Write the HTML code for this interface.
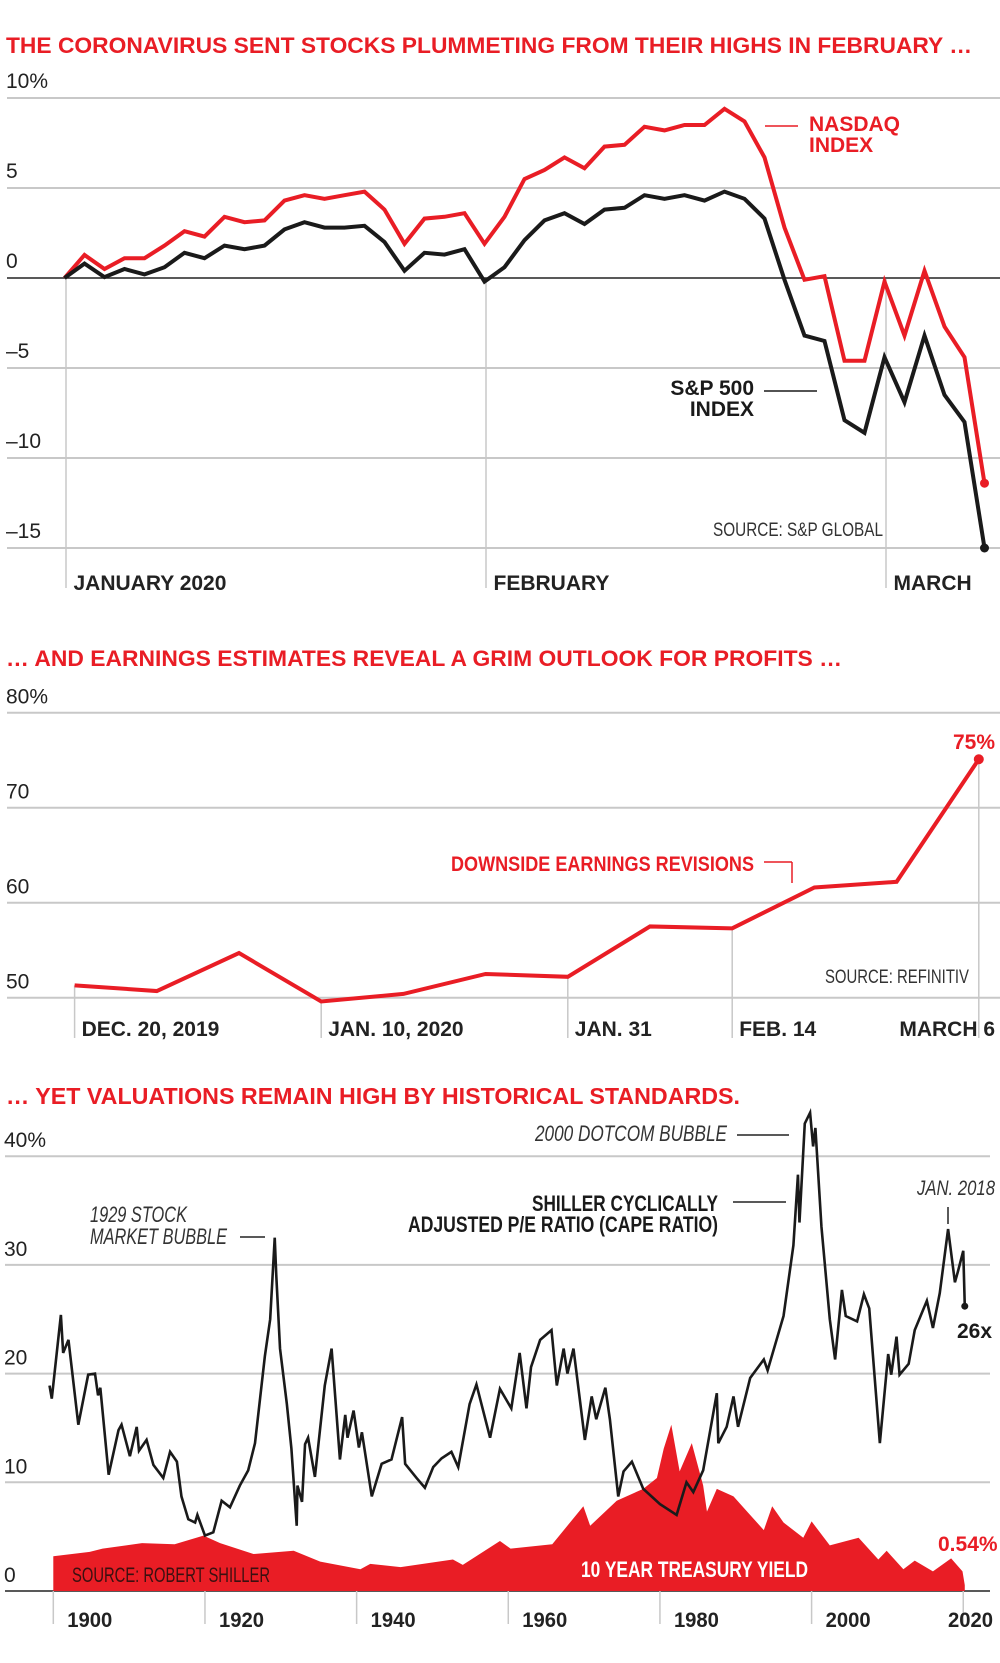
<!DOCTYPE html>
<html><head><meta charset="utf-8"><style>
html,body{margin:0;padding:0;background:#fff;}
svg{display:block;}
text{font-family:"Liberation Sans Narrow","Liberation Sans",sans-serif;}
.t{font-family:"Liberation Sans",sans-serif;font-weight:bold;fill:#e91d25;}
.ax{font-size:21px;fill:#222;}
.xl{font-size:21px;font-weight:bold;fill:#222;}
</style></head><body>
<svg id="root" width="1000" height="1663" viewBox="0 0 1000 1663" xmlns="http://www.w3.org/2000/svg">
<text class="t" x="6" y="53" font-size="22" textLength="966" lengthAdjust="spacingAndGlyphs">THE CORONAVIRUS SENT STOCKS PLUMMETING FROM THEIR HIGHS IN FEBRUARY …</text>
<g id="c1"></g>
<text class="t" x="6" y="666" font-size="22" textLength="836" lengthAdjust="spacingAndGlyphs">… AND EARNINGS ESTIMATES REVEAL A GRIM OUTLOOK FOR PROFITS …</text>
<g id="c2"></g>
<text class="t" x="6" y="1104" font-size="23" textLength="734" lengthAdjust="spacingAndGlyphs">… YET VALUATIONS REMAIN HIGH BY HISTORICAL STANDARDS.</text>
<g id="c3"></g>
</svg>
<script>
// ---------- Chart 1 data ----------
const c1Ticks = [10, 5, 0, -5, -10, -15];
const c1TickLabels = ["10%", "5", "0", "\u20135", "\u201310", "\u201315"];
const nasdaq = [0,1.28,0.5,1.1,1.1,1.8,2.6,2.3,3.4,3.1,3.2,4.3,4.6,4.4,4.6,4.8,3.8,1.9,3.3,3.4,3.6,1.9,3.4,5.5,6.0,6.7,6.1,7.3,7.4,8.4,8.2,8.5,8.5,9.4,8.7,6.7,2.8,-0.1,0.1,-4.6,-4.6,-0.2,-3.2,0.4,-2.7,-4.4,-11.4];
const sp500 = [0,0.8,0.05,0.5,0.2,0.6,1.4,1.1,1.8,1.6,1.8,2.7,3.1,2.8,2.8,2.9,2.0,0.4,1.4,1.3,1.6,-0.2,0.6,2.1,3.2,3.6,3.0,3.8,3.9,4.6,4.4,4.6,4.3,4.8,4.4,3.3,-0.1,-3.2,-3.5,-7.9,-8.6,-4.4,-6.9,-3.2,-6.5,-8.0,-15];
const c1MonthIdx = [0, 21, 41];
const c1MonthLabels = ["JANUARY 2020", "FEBRUARY", "MARCH"];
// ---------- Chart 2 data ----------
const c2Ticks = [80, 70, 60, 50];
const c2TickLabels = ["80%", "70", "60", "50"];
const revisions = [51.3,50.7,54.7,49.6,50.4,52.5,52.2,57.5,57.3,61.6,62.2,75.1];
const c2DateIdx = [0, 3, 6, 8, 11];
const c2DateLabels = ["DEC. 20, 2019", "JAN. 10, 2020", "JAN. 31", "FEB. 14", "MARCH 6"];
// ---------- Chart 3 data ----------
const c3Ticks = [40, 30, 20, 10, 0];
const c3TickLabels = ["40%", "30", "20", "10", "0"];
const c3Years = [1900, 1920, 1940, 1960, 1980, 2000, 2020];
const capeYears = [1899.5,1899.8,1901,1901.3,1902,1903.3,1904.6,1905.5,1905.9,1906.2,1907.3,1908.6,1909,1910.1,1911,1911.3,1912.3,1913.2,1914.5,1915.4,1916.3,1916.9,1917.8,1918.7,1919,1920,1921.1,1922.2,1923.3,1924.6,1925.7,1926.6,1927.9,1928.6,1929.2,1929.4,1929.9,1930.8,1931.4,1932.1,1932.2,1932.8,1933.2,1933.6,1934.5,1935.8,1936.7,1937.8,1938.5,1938.8,1939.6,1940.3,1940.7,1942,1943.3,1944.6,1946,1946.4,1947.9,1949,1950.1,1951.2,1952.5,1953.4,1954.9,1955.8,1957.6,1958.9,1960.4,1961.5,1962.4,1963,1964.2,1965.7,1966.4,1967.3,1967.8,1968.6,1970.1,1971,1971.6,1972.8,1973.4,1974.5,1975.2,1976.3,1977.8,1980,1982.2,1983.5,1984.4,1985.7,1987.5,1987.7,1988.8,1989.7,1990.3,1991.9,1993.7,1994.2,1996.3,1997.6,1998.2,1998.4,1999.1,1999.8,2000.2,2000.5,2001.3,2002.4,2003.1,2004,2004.5,2006,2006.9,2007.6,2009,2010.1,2010.5,2011.2,2011.6,2012.8,2013.6,2015.2,2016,2016.9,2018,2018.9,2019.3,2020,2020.2];
const capeValues = [18.9,17.7,25.4,21.9,23.1,15.3,19.9,20.0,18.0,18.7,10.7,14.8,15.3,12.4,15.1,12.9,13.9,11.6,10.4,12.8,11.9,8.7,6.6,6.3,7.0,5.1,5.4,8.3,7.7,9.7,11.1,13.6,21.6,25.0,32.5,29.1,22.3,17.2,13.1,6.0,9.7,8.2,13.5,14.1,10.5,18.9,22.3,12.1,16.2,14.1,16.6,13.2,14.6,8.7,11.7,12.1,16.0,11.7,10.4,9.5,11.4,12.2,12.8,11.4,17.2,19.0,14.1,18.6,16.8,21.9,16.8,20.6,23.1,24.0,18.9,22.3,20.0,22.3,13.9,17.9,15.8,18.7,15.8,8.7,11.0,11.9,9.4,8.0,7.0,10.0,9.1,11.1,18.2,13.6,15.1,17.9,15.1,19.6,21.3,20.3,25.3,31.8,38.3,33.9,43.0,44.0,40.9,42.6,33.5,25.0,21.3,27.7,25.3,24.8,27.3,26.0,13.6,21.8,19.9,23.4,19.9,20.9,24.0,26.7,24.2,27.4,33.3,28.4,29.4,31.3,26.2];
const yieldYears = [1900,1904.8,1906.5,1911.7,1916,1919.8,1922,1926.4,1931.7,1935.2,1940.5,1941.8,1945.8,1952.7,1954,1956.9,1958.9,1960.3,1965.8,1969.9,1970.8,1974.3,1977.8,1979.6,1980.5,1981.5,1982.6,1984.2,1985.7,1986.2,1987.5,1989.7,1991.5,1993.7,1994.8,1996.3,1998.9,2000,2002.4,2006.2,2008.8,2009.9,2012.1,2013.6,2016,2018.4,2019.9,2020.2];
const yieldValues = [3.2,3.6,3.9,4.4,4.3,5.1,4.4,3.4,3.7,2.7,2.0,2.5,2.2,2.9,2.4,3.7,4.6,3.9,4.3,7.8,6.0,8.3,9.4,10.4,13.1,15.3,11.0,13.6,9.7,7.3,9.4,8.7,7.3,5.6,7.8,6.3,4.9,6.4,4.2,4.9,2.9,3.7,2.0,2.8,1.8,3.0,1.8,0.54];

const NS = "http://www.w3.org/2000/svg";
function mk(parent, tag, attrs, txt) {
  const e = document.createElementNS(NS, tag);
  for (const k in attrs) e.setAttribute(k, attrs[k]);
  if (txt !== undefined) e.textContent = txt;
  parent.appendChild(e);
  return e;
}
const c1 = document.getElementById('c1');
const c2 = document.getElementById('c2');
const c3 = document.getElementById('c3');

// ===== Chart 1 =====
const x1 = i => 64.5 + i * 20;
const y1 = v => 278 - v * 18;
c1Ticks.forEach((t, k) => {
  const g = mk(c1, 'line', {x1: 7, x2: 1000, y1: y1(t), y2: y1(t), stroke: t === 0 ? '#222' : '#c8c8c8', 'stroke-width': t === 0 ? 1.5 : 2});
  
  
  const l = mk(c1, 'text', {x: 6, y: y1(t) - 10, class: 'ax'}, c1TickLabels[k]);
  
  
});
c1MonthIdx.forEach((i, k) => {
  const v = mk(c1, 'line', {x1: x1(i) + 1.5, x2: x1(i) + 1.5, y1: 279, y2: 588, stroke: '#c8c8c8', 'stroke-width': 1.5});
  
  
  const l = mk(c1, 'text', {x: x1(i) + 9, y: 590, class: 'xl'}, c1MonthLabels[k]);
  
  
});
function series(parent, xs, ys, color, w, name) {
  const p = mk(parent, 'polyline', {points: xs.map((x, i) => x + ',' + ys[i]).join(' '), fill: 'none', stroke: color, 'stroke-width': w, 'stroke-linejoin': 'miter'});
  
  
  return p;
}
series(c1, nasdaq.map((v, i) => x1(i)), nasdaq.map(y1), '#e91d25', 4, 'nasdaq-line');
series(c1, sp500.map((v, i) => x1(i)), sp500.map(y1), '#1a1a1a', 4, 'sp500-line');
let d = mk(c1, 'circle', {cx: x1(nasdaq.length - 1), cy: y1(nasdaq[nasdaq.length - 1]), r: 4.5, fill: '#e91d25'});


d = mk(c1, 'circle', {cx: x1(sp500.length - 1), cy: y1(sp500[sp500.length - 1]), r: 4.5, fill: '#1a1a1a'});



// ===== Chart 2 =====
const x2 = i => 74.6 + i * 82.2;
const y2 = v => 997.7 - (v - 50) * 9.5;
c2Ticks.forEach((t, k) => {
  const g = mk(c2, 'line', {x1: 7, x2: 1000, y1: y2(t), y2: y2(t), stroke: '#c8c8c8', 'stroke-width': 2});
  
  
  const l = mk(c2, 'text', {x: 6, y: y2(t) - 9, class: 'ax'}, c2TickLabels[k]);
  
  
});
c2DateIdx.forEach((i, k) => {
  const v = mk(c2, 'line', {x1: x2(i), x2: x2(i), y1: y2(revisions[i]), y2: 1038, stroke: '#c8c8c8', 'stroke-width': 1.5});
  
  
  const last = k === c2DateIdx.length - 1;
  const l = mk(c2, 'text', {x: last ? 995 : x2(i) + 7, y: 1036, class: 'xl', 'text-anchor': last ? 'end' : 'start'}, c2DateLabels[k]);
  
  
});
series(c2, revisions.map((v, i) => x2(i)), revisions.map(y2), '#e91d25', 4, 'revisions-line');
d = mk(c2, 'circle', {cx: x2(revisions.length - 1), cy: y2(revisions[revisions.length - 1]), r: 5, fill: '#e91d25'});



// ===== Chart 3 =====
const x3 = yr => 53.3 + (yr - 1900) * 7.583;
const y3 = v => 1591 - v * 10.87;
c3Ticks.forEach((t, k) => {
  const g = mk(c3, 'line', {x1: 5, x2: 990, y1: y3(t), y2: y3(t), stroke: t === 0 ? '#222' : '#c8c8c8', 'stroke-width': t === 0 ? 1.5 : 2});
  
  
  const l = mk(c3, 'text', {x: 4, y: y3(t) - 9, class: 'ax', 'font-family': 'Liberation Sans, sans-serif', 'font-size': 20}, c3TickLabels[k]);
  
  
});
const ypts = yieldYears.map((yr, i) => x3(yr) + ',' + y3(yieldValues[i]));
const area = mk(c3, 'polygon', {points: x3(yieldYears[0]) + ',' + y3(0) + ' ' + ypts.join(' ') + ' ' + x3(yieldYears[yieldYears.length - 1]) + ',' + y3(0), fill: '#e91d25'});


c3Years.forEach((yr, k) => {
  const v = mk(c3, 'line', {x1: x3(yr), x2: x3(yr), y1: y3(0), y2: 1624, stroke: '#c8c8c8', 'stroke-width': 1.5});
  
  
  const last = k === c3Years.length - 1;
  const l = mk(c3, 'text', {x: last ? 993 : x3(yr) + 14, y: 1627, class: 'xl', 'text-anchor': last ? 'end' : 'start', 'font-family': 'Liberation Sans, sans-serif', 'font-size': 20, textLength: 45, lengthAdjust: 'spacingAndGlyphs'}, String(yr));
  
  
});
series(c3, capeYears.map(x3), capeValues.map(y3), '#1a1a1a', 2.6, 'cape-line');
d = mk(c3, 'circle', {cx: x3(capeYears[capeYears.length - 1]), cy: y3(capeValues[capeValues.length - 1]), r: 3.5, fill: '#1a1a1a'});


</script>
<script>
(function(){
const NS="http://www.w3.org/2000/svg";
const root=document.getElementById('root');
function t(x,y,txt,attrs,name){const e=document.createElementNS(NS,'text');e.setAttribute('x',x);e.setAttribute('y',y);for(const k in attrs)e.setAttribute(k,attrs[k]);e.textContent=txt;


root.appendChild(e);}
function l(x1,y1,x2,y2,c,name){const e=document.createElementNS(NS,'line');e.setAttribute('x1',x1);e.setAttribute('y1',y1);e.setAttribute('x2',x2);e.setAttribute('y2',y2);e.setAttribute('stroke',c);e.setAttribute('stroke-width',1.5);


root.appendChild(e);}
const R='#e91d25';
t(809,131,'NASDAQ',{'font-size':21,'font-weight':'bold',fill:R},'nasdaq-label');
t(809,152,'INDEX',{'font-size':21,'font-weight':'bold',fill:R},'nasdaq-label-2');
l(765,126,798,126,R,'nasdaq-leader');
t(754,395,'S&P 500',{'font-size':21,'font-weight':'bold',fill:'#1a1a1a','text-anchor':'end'},'sp500-label');
t(754,416,'INDEX',{'font-size':21,'font-weight':'bold',fill:'#1a1a1a','text-anchor':'end'},'sp500-label-2');
l(764,391,817,391,'#1a1a1a','sp500-leader');
t(713,536,'SOURCE: S&P GLOBAL',{'font-size':19,fill:'#333',textLength:170,lengthAdjust:'spacingAndGlyphs'},'c1-source');
t(995,749,'75%',{'font-size':21,'font-weight':'bold',fill:R,'text-anchor':'end'},'revisions-end-label');
t(451,871,'DOWNSIDE EARNINGS REVISIONS',{'font-size':21,'font-weight':'bold',fill:R,textLength:303,lengthAdjust:'spacingAndGlyphs'},'revisions-label');
l(764,862,792,862,R,'revisions-leader-h');
l(792,862,792,883,R,'revisions-leader-v');
t(825,983,'SOURCE: REFINITIV',{'font-size':19,fill:'#333',textLength:144,lengthAdjust:'spacingAndGlyphs'},'c2-source');
t(90,1222,'1929 STOCK',{'font-size':22,'font-style':'italic',fill:'#333',textLength:97,lengthAdjust:'spacingAndGlyphs'},'bubble1929-label');
t(90,1244,'MARKET BUBBLE',{'font-size':22,'font-style':'italic',fill:'#333',textLength:137,lengthAdjust:'spacingAndGlyphs'},'bubble1929-label-2');
l(240,1237,265,1237,'#222','bubble1929-leader');
t(535,1141,'2000 DOTCOM BUBBLE',{'font-size':22,'font-style':'italic',fill:'#333',textLength:192,lengthAdjust:'spacingAndGlyphs'},'dotcom-label');
l(737,1135,789,1135,'#222','dotcom-leader');
t(718,1211,'SHILLER CYCLICALLY',{'font-size':22,'font-weight':'bold',fill:'#1a1a1a','text-anchor':'end',textLength:186,lengthAdjust:'spacingAndGlyphs'},'cape-label');
t(718,1232,'ADJUSTED P/E RATIO (CAPE RATIO)',{'font-size':22,'font-weight':'bold',fill:'#1a1a1a','text-anchor':'end',textLength:310,lengthAdjust:'spacingAndGlyphs'},'cape-label-2');
l(733,1202,786,1202,'#222','cape-leader');
t(995,1195,'JAN. 2018',{'font-size':21,'font-style':'italic',fill:'#333','text-anchor':'end',textLength:78,lengthAdjust:'spacingAndGlyphs'},'jan2018-label');
l(948,1207,948,1224,'#222','jan2018-leader');
t(957,1338,'26x',{'font-size':21,'font-weight':'bold',fill:'#1a1a1a'},'cape-end-label');
t(938,1551,'0.54%',{'font-size':21,'font-weight':'bold',fill:R},'yield-end-label');
t(581,1577,'10 YEAR TREASURY YIELD',{'font-size':22,'font-weight':'bold',fill:'#fff',textLength:227,lengthAdjust:'spacingAndGlyphs'},'yield-label');
t(72,1582,'SOURCE: ROBERT SHILLER',{'font-size':21,fill:'#3a1010',textLength:198,lengthAdjust:'spacingAndGlyphs'},'c3-source');
})();
</script>
</body></html>
